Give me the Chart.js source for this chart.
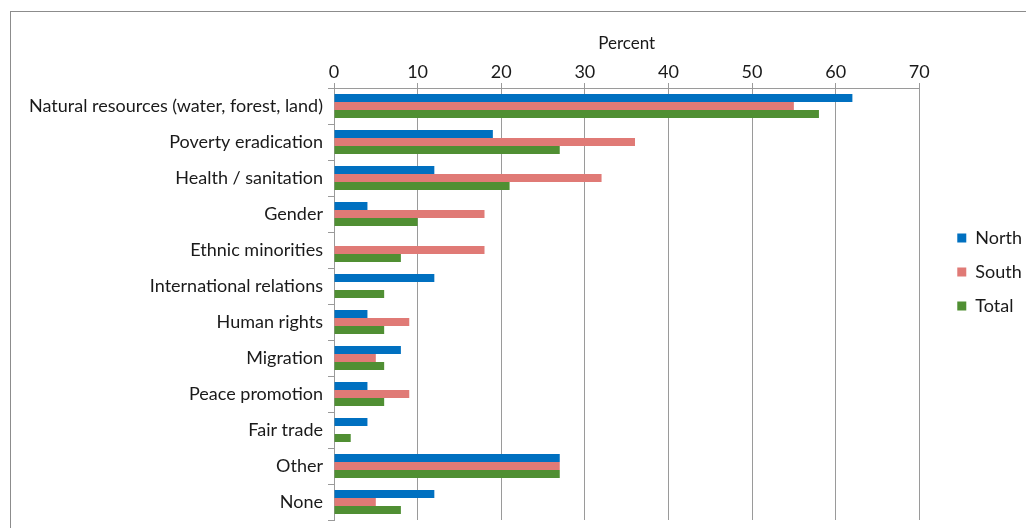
<!DOCTYPE html>
<html>
<head>
    <title>Percent by topic</title>
    <script src="https://cdn.jsdelivr.net/npm/chart.js"></script>
    <style>
        body { margin: 0; background: #fff; overflow: hidden; }
        #frame { position: absolute; left: 10px; top: 11px; width: 1100px; height: 600px; border: 1px solid #8c8c8c; }
        #wrap { position: absolute; left: 0; top: 0; width: 1026px; height: 528px; }
    </style>
</head>
<body>
    <div id="frame"></div>
    <div id="wrap"><canvas id="barChart"></canvas></div>
    <script>
        // データ
        const categories = [
            "Natural resources (water, forest, land)",
            "Poverty eradication",
            "Health / sanitation",
            "Gender",
            "Ethnic minorities",
            "International relations",
            "Human rights",
            "Migration",
            "Peace promotion",
            "Fair trade",
            "Other",
            "None"
        ];
        const north = [62, 19, 12, 4, 0, 12, 4, 8, 4, 4, 27, 12];
        const south = [55, 36, 32, 18, 18, 0, 9, 5, 9, 0, 27, 5];
        const total = [58, 27, 21, 10, 8, 6, 6, 6, 6, 2, 27, 8];
        const xTicks = [0, 10, 20, 30, 40, 50, 60, 70];

        const FONT = "Lato, 'Open Sans', sans-serif";
        const gridColor = "#9a9a9a";
        const textColor = "#1a1a1a";

        const ctx = document.getElementById("barChart").getContext("2d");

        // 凡例をプロットから少し離す
        const legendShift = {
            id: "legendShift",
            afterLayout(chart) {
                const lg = chart.legend;
                lg.left += 22; lg.right += 22;
                lg.top -= 3; lg.bottom -= 3;
            }
        };

        const chartData = {
            labels: categories,
            datasets: [
                { label: "North", data: north, backgroundColor: "#0070c0" },
                { label: "South", data: south, backgroundColor: "#e07a76" },
                { label: "Total", data: total, backgroundColor: "#508f33" }
            ]
        };

        const config = {
            type: "bar",
            data: chartData,
            plugins: [legendShift],
            options: {
                indexAxis: "y",
                responsive: true,
                maintainAspectRatio: false,
                animation: false,
                datasets: { bar: { categoryPercentage: 0.66, barPercentage: 1.0 } },
                layout: { padding: { left: 0, top: 30, right: 16, bottom: 8 } },
                plugins: {
                    tooltip: { enabled: false },
                    legend: {
                        position: "right",
                        align: "center",
                        labels: {
                            boxWidth: 9,
                            boxHeight: 9,
                            padding: 16,
                            color: textColor,
                            font: { family: FONT, size: 18 }
                        }
                    }
                },
                scales: {
                    x: {
                        position: "top",
                        min: 0,
                        max: 70,
                        afterBuildTicks: (scale) => { scale.ticks = xTicks.map((v) => ({ value: v })); },
                        ticks: { color: textColor, font: { family: FONT, size: 18 }, padding: 0 },
                        grid: { color: gridColor, tickLength: 5, tickColor: gridColor },
                        border: { color: gridColor },
                        title: { display: true, text: "Percent", color: textColor, font: { family: FONT, size: 17 }, padding: { top: 3, bottom: 1 } },
                        afterFit: (scale) => { scale.height = 58; }
                    },
                    y: {
                        ticks: { color: textColor, font: { family: FONT, size: 18 }, padding: 5, autoSkip: false },
                        grid: { offset: true, drawOnChartArea: false, tickLength: 6, color: gridColor },
                        border: { color: gridColor },
                        afterFit: (scale) => {
                            scale.width = 334;
                            scale.paddingTop = 0;
                            scale.paddingBottom = 0;
                        }
                    }
                }
            }
        };

        const barChart = new Chart(ctx, config);
    </script>
</body>
</html>
